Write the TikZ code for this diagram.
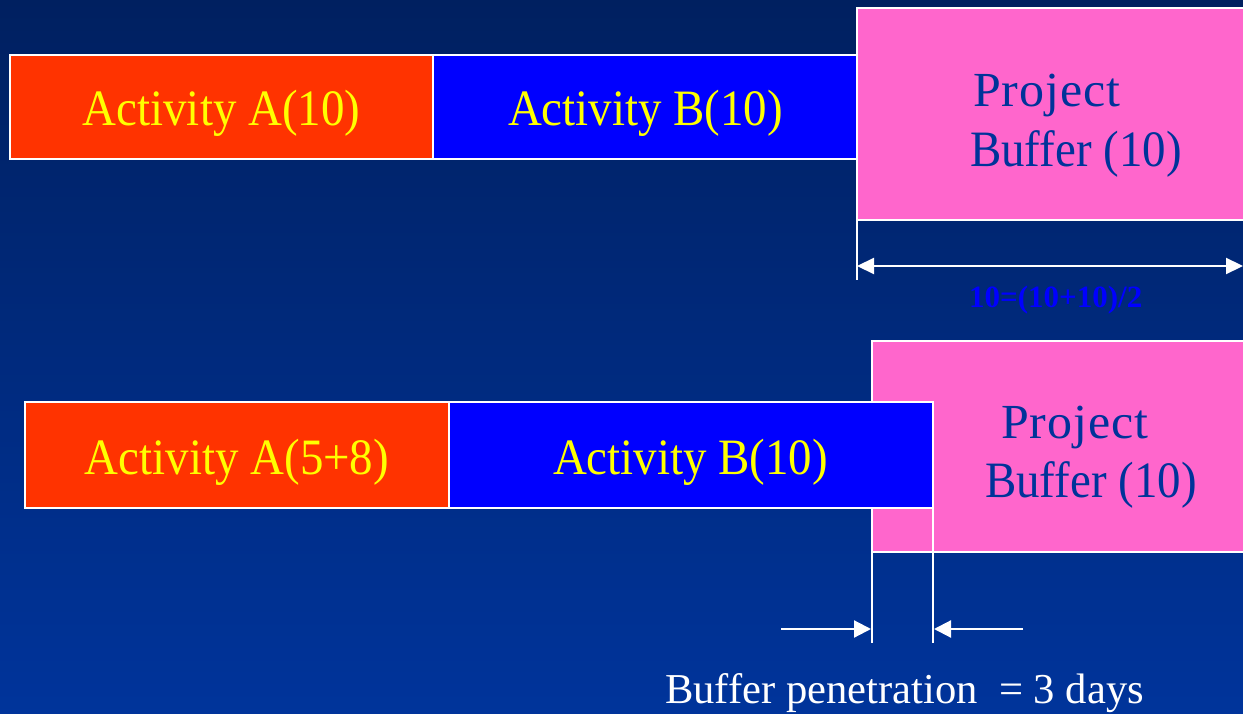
\documentclass[tikz,border=0pt]{standalone}
\usepackage{fontspec}
\setmainfont{Liberation Serif}
\newfontfamily\tallserif[FakeStretch=0.92]{Liberation Serif}
\newfontfamily\wideserif[FakeStretch=1.02,LetterSpace=2]{Liberation Serif}
\usetikzlibrary{arrows.meta}
\definecolor{bgtop}{RGB}{0,32,96}
\definecolor{bgbot}{RGB}{0,52,155}
\definecolor{actA}{RGB}{255,51,0}
\definecolor{actB}{RGB}{0,0,255}
\definecolor{buf}{RGB}{255,102,204}
\definecolor{buftext}{RGB}{0,51,153}
\definecolor{acttext}{RGB}{255,255,0}
\begin{document}
\begin{tikzpicture}[x=1pt,y=-1pt,
  barbox/.style={draw=white,line width=2pt,inner sep=0pt},
  acttxt/.style={anchor=base,text=acttext,font=\tallserif\fontsize{51}{54}\selectfont,inner sep=0pt},
  buftxt/.style={anchor=base west,text=buftext,font=\tallserif\fontsize{51}{54}\selectfont,inner sep=0pt},
  projtxt/.style={buftxt,font=\wideserif\fontsize{49}{54}\selectfont},
  wline/.style={draw=white,line width=2pt},
  warrow/.style={draw=white,line width=2.2pt,-{Triangle[length=17pt,width=17pt]}},
  wdarrow/.style={draw=white,line width=2.2pt,{Triangle[length=17pt,width=16pt]}-{Triangle[length=17pt,width=16pt]}}]
\useasboundingbox (0,0) rectangle (1243,714);
\shade[top color=bgtop,bottom color=bgbot] (0,0) rectangle (1243,714);
% row 1
\path[barbox,fill=buf] (857,8) rectangle (1250,220);
\path[barbox,fill=actA] (10,55) rectangle (433,159);
\path[barbox,fill=actB] (433,55) rectangle (857,159);
\node[acttxt] (a1) at (221.5,126) {Activity A(10)};
\node[acttxt] (b1) at (645.5,126) {Activity B(10)};
\node[projtxt] (p1) at (973,107) {Project};
\node[buftxt] (q1) at (970,167) {Buffer (10)};
\coordinate (v1t) at (857,220);
\coordinate (v1b) at (857,280);
\draw[wline] (v1t) -- (v1b);
\coordinate (d1l) at (857,266);
\coordinate (d1r) at (1243,266);
\draw[wdarrow] (d1l) -- (d1r);
\node[anchor=base west,inner sep=0pt,text=actB,font=\bfseries\fontsize{31}{34}\selectfont] (eq) at (969,307) {10=(10+10)/2};
% row 2
\path[barbox,fill=buf] (872,341) rectangle (1250,552);
\path[barbox,fill=actA] (25,402) rectangle (449,508);
\path[barbox,fill=actB] (449,402) rectangle (933,508);
\node[acttxt] (a2) at (237,474) {Activity A(5+8)};
\node[acttxt] (b2) at (690.5,474) {Activity B(10)};
\node[projtxt] (p2) at (1001,438) {Project};
\node[buftxt] (q2) at (985,497) {Buffer (10)};
\coordinate (v2t) at (872,552);
\coordinate (v2b) at (872,643);
\coordinate (v3t) at (933,508);
\coordinate (v3b) at (933,643);
\draw[wline] (v2t) -- (v2b);
\draw[wline] (v3t) -- (v3b);
\coordinate (l1) at (781,629);
\coordinate (l2) at (871,629);
\coordinate (r1) at (1023,629);
\coordinate (r2) at (934,629);
\draw[warrow] (l1) -- (l2);
\draw[warrow] (r1) -- (r2);
\node[anchor=base west,inner sep=0pt,text=white,font=\fontsize{42.6}{46}\selectfont] (bp) at (665,703) {Buffer penetration\ \ = 3 days};
\end{tikzpicture}
\end{document}
